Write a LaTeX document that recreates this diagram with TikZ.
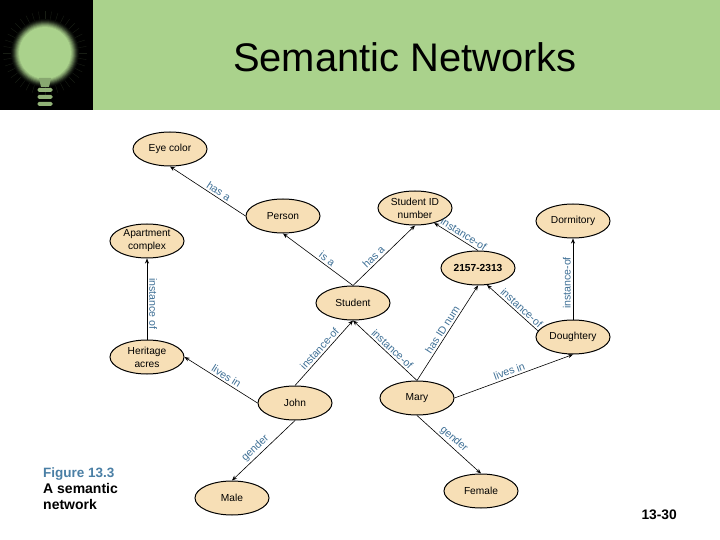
\documentclass[tikz,border=0pt]{standalone}
\usepackage{fontspec}
\setmainfont{Liberation Sans}
\usetikzlibrary{shapes.geometric,arrows.meta}

\definecolor{headgreen}{HTML}{AAD28C}
\definecolor{nodefill}{HTML}{F7DFB6}
\definecolor{linkblue}{HTML}{3F7096}
\definecolor{capblue}{HTML}{4A7FA5}

\tikzset{
  concept/.style={draw, line width=1pt, ellipse, fill=nodefill, minimum width=74pt, minimum height=34pt,
    inner sep=0pt, align=center, font=\fontsize{10.2}{13}\selectfont},
  link/.style={draw, -{Stealth[length=5pt,width=4pt]}, line width=0.6pt},
  linktext/.style={text=linkblue, font=\fontsize{10.6}{11}\selectfont, inner sep=2pt},
}

\begin{document}
\begin{tikzpicture}[x=1pt,y=-1pt]
    \useasboundingbox (0,0) rectangle (720,540);
    \fill[white] (0,0) rectangle (720,540);

    % header
    \fill[headgreen] (93,0) rectangle (720,110);
    \fill[black] (0,0) rectangle (93,110);
    \foreach \a in {0,9,...,351} {
      \draw[headgreen!14!black, line width=0.4pt] (45,53) ++(\a:33) -- ++(\a:9);
    }
    % bulb glow, from the rim inwards
    \foreach \r/\p in {34/5,33/12,32/22,31/35,30/50,29/65,28/78,27/90,26/100} {
      \fill[headgreen!\p!black] (45,53) circle (\r);
    }
    \fill[headgreen!80!black] (39,78) -- (51,78) -- (49,87) -- (41,87) -- cycle;
    \foreach \y in {88,95,102} {
      \fill[headgreen!85!black, rounded corners=1.5pt] (37.5,\y) rectangle (52.5,\y+4);
    }
    \node (title) at (405,57) {\fontsize{39.9}{44}\selectfont Semantic Networks};

    % concepts
    \node[concept] (eyecolor) at (170,149) {Eye color};
    \node[concept] (person) at (283,216) {Person};
    \node[concept] (apartment) at (147,241) {Apartment\\complex};
    \node[concept] (idnumber) at (415,208) {Student ID\\number};
    \node[concept] (number) at (478,268) {\textbf{2157-2313}};
    \node[concept] (dormitory) at (573,221) {Dormitory};
    \node[concept] (student) at (353,303) {Student};
    \node[concept] (doughtery) at (573,337) {Doughtery};
    \node[concept] (heritage) at (147,357) {Heritage\\acres};
    \node[concept] (john) at (295,403) {John};
    \node[concept] (mary) at (417,398) {Mary};
    \node[concept] (male) at (232,498) {Male};
    \node[concept] (female) at (481,491) {Female};

    % links
    \draw[link] (person.west) -- node[linktext,sloped,above,pos=0.4] {has a} (eyecolor.south);
    \draw[link] (student.north) -- node[linktext,sloped,above,pos=0.42] {is a} (person.south);
    \draw[link] (student.north) -- node[linktext,sloped,above,pos=0.4] {has a} (idnumber.south);
    \draw[link] (number.north) -- node[linktext,sloped,above,pos=0.4] {instance-of} (idnumber.-38);
    \draw[link] (heritage.north) -- node[linktext,rotate=-90,anchor=south,pos=0.44] {instance of} (apartment.south);
    \draw[link] (doughtery.north) -- node[linktext,rotate=90,anchor=south,pos=0.45] {instance-of} (dormitory.south);
    \draw[link] (doughtery.170) -- node[linktext,sloped,above,pos=0.4] {instance-of} (number.-62);
    \draw[link] (mary.north) -- node[linktext,sloped,above,pos=0.5] {has ID num} (number.south);
    \draw[link] (mary.north) -- node[linktext,sloped,above,pos=0.45] {instance-of} (student.south);
    \draw[link] (john.north) -- node[linktext,sloped,above,pos=0.5] {instance-of} (student.south);
    \draw[link] (john.west) -- node[linktext,sloped,above,pos=0.47] {lives in} (heritage.east);
    \draw[link] (mary.east) -- node[linktext,sloped,above,pos=0.48] {lives in} (doughtery.south);
    \draw[link] (john.south) -- node[linktext,sloped,above,pos=0.55] {gender} (male.north);
    \draw[link] (mary.south) -- node[linktext,sloped,above,pos=0.5] {gender} (female.north);

    % caption and page number
    \node[anchor=north west, inner sep=0pt, align=left, font=\fontsize{14}{16}\selectfont\bfseries] (caption) at (43,468)
      {\textcolor{capblue}{\fontsize{13.5}{16}\selectfont Figure 13.3}\\A semantic\\network};
    \node[anchor=east, inner sep=0pt, font=\fontsize{13.8}{16}\selectfont\bfseries] (pagenum) at (677,515) {13-30};
\end{tikzpicture}
\end{document}
